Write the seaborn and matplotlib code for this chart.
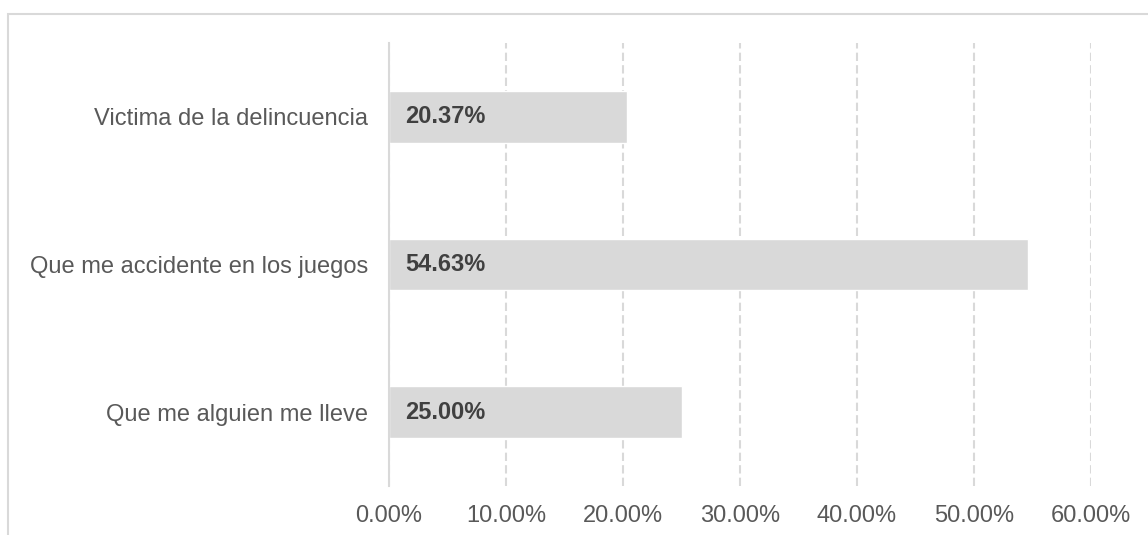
import matplotlib
matplotlib.use("Agg")
import matplotlib.pyplot as plt
import seaborn as sns
import pandas as pd
from matplotlib.patches import Rectangle

# data
categories = ["Victima de la delincuencia", "Que me accidente en los juegos", "Que me alguien me lleve"]
values = [20.37, 54.63, 25.00]
xticks = [0, 10, 20, 30, 40, 50, 60]

df = pd.DataFrame({"category": categories, "value": values})

sns.set_style("white")
plt.rcParams["font.family"] = ["Liberation Sans", "DejaVu Sans"]

fig = plt.figure(figsize=(11.48, 5.35), dpi=100)
ax = fig.add_axes([389 / 1148, 1 - 486 / 535, (1091 - 389) / 1148, (486 - 43) / 535])

sns.barplot(data=df, y="category", x="value", orient="h", color="#d9d9d9",
            width=0.352, saturation=1, ax=ax, zorder=3)

# value labels inside bars
for i, v in enumerate(values):
    ax.text(16 / 702 * 60, i, f"{v:.2f}%", va="center", ha="left",
            fontsize=17, fontweight="bold", color="#404040", zorder=4)

ax.set_xlim(0, 60)
ax.set_ylim(2.5, -0.5)
ax.set_xticks(xticks)
ax.set_xticklabels([f"{t:.2f}%" for t in xticks])
ax.set_xlabel("")
ax.set_ylabel("")
ax.tick_params(axis="both", length=0, labelsize=17, labelcolor="#595959")
ax.tick_params(axis="y", pad=15)
ax.tick_params(axis="x", pad=14)

ax.xaxis.grid(True, color="#d9d9d9", linewidth=1.5, linestyle=(0, (4, 2)), zorder=0)
ax.yaxis.grid(False)
ax.set_axisbelow(True)
for side in ["top", "right", "bottom"]:
    ax.spines[side].set_visible(False)
ax.spines["left"].set_color("#d9d9d9")
ax.spines["left"].set_linewidth(1.5)
ax.spines["left"].set_zorder(5)

# outer chart-area border (cut off at right and bottom in the reference)
fig.patches.append(Rectangle((8 / 1148, -0.5), 2, 0.5 + 1 - 14 / 535,
                             transform=fig.transFigure, fill=False,
                             edgecolor="#d9d9d9", linewidth=1.5))

fig.savefig("out.png", dpi=100)
